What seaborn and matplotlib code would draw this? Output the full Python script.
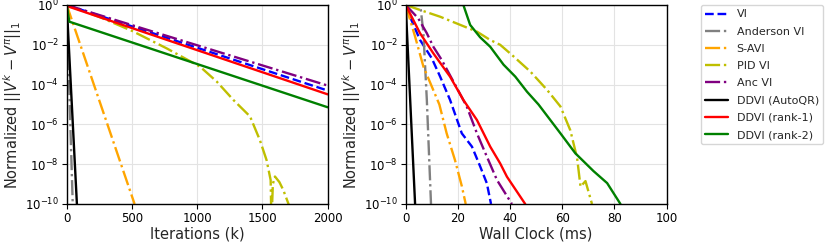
import numpy as np
import pandas as pd
import matplotlib
matplotlib.use("Agg")
import matplotlib.pyplot as plt
import matplotlib.ticker as mticker
import seaborn as sns

# series order / styles for legend
methods = ["VI", "Anderson VI", "S-AVI", "PID VI", "Anc VI",
           "DDVI (AutoQR)", "DDVI (rank-1)", "DDVI (rank-2)"]
colors = ["blue", "gray", "orange", "y", "purple", "black", "red", "green"]
styles = ["--", "-.", "-.", "-.", "-.", "-", "-", "-"]

# left panel: iterations vs log10 error
it_vi, lg_vi = [0, 2000], [0, -4.3]
it_and, lg_and = [0, 46], [0, -10]
it_savi, lg_savi = [0, 520], [0, -10]
it_pid = [0, 250, 500, 766, 1022, 1150, 1277, 1405, 1481, 1532, 1563, 1569,
          1580, 1596, 1630, 1660, 1700, 1710]
lg_pid = [0, -0.6, -1.3, -2.18, -3.1, -3.85, -4.77, -5.6, -6.8, -7.8, -8.8, -11,
          -9.0, -8.62, -8.9, -9.3, -10, -11]
it_anc, lg_anc = [0, 2000], [0, -4.05]
it_qr, lg_qr = [0, 78], [0, -10]
it_r1, lg_r1 = [0, 2000], [-0.05, -4.49]
it_r2, lg_r2 = [0, 20, 2000], [0, -0.84, -5.14]

# right panel: wall clock (ms) vs log10 error
ms_vi = [0, 1.65, 5.5, 10, 13.2, 17, 21.5, 25.4, 28.5, 31.1, 32.7]
lw_vi = [0, -0.59, -1.76, -2.68, -3.6, -4.77, -6.45, -7.12, -8.1, -8.96, -10]
ms_and = [0, 5.6, 6.8, 8.1, 9.7]
lw_and = [0, 0, -1.42, -4.77, -10]
ms_savi = [0, 3.6, 6.8, 12.9, 15.7, 18.9, 21.5, 23]
lw_savi = [0, -1.59, -3.1, -5.0, -6.45, -7.8, -9.1, -10]
ms_pid = [0, 5.5, 13.2, 20.9, 27.3, 32.4, 36.2, 40.7, 47.8, 54.2, 59.3, 63.1,
          65.7, 67, 68.9, 71.4]
lw_pid = [0, -0.25, -0.59, -1.0, -1.34, -1.76, -2.0, -2.51, -3.35, -4.27, -5.1,
          -6.3, -7.7, -9.13, -8.85, -10]
ms_anc = [0, 4.8, 8.1, 10.6, 13.8, 18.5, 23.4, 27.3, 31.1, 35, 40.7]
lw_anc = [0, -0.67, -1.42, -2.1, -2.76, -3.9, -5.1, -6.45, -7.62, -8.8, -10]
ms_qr, lw_qr = [0, 3.6], [0, -10]
ms_r1 = [0, 5.5, 10.6, 17, 22.1, 27.3, 32.4, 36.2, 38.8, 45.8]
lw_r1 = [0, -1.42, -2.43, -3.6, -4.77, -5.78, -7.12, -7.96, -8.63, -10]
ms_r2 = [0, 22.1, 24.7, 28.5, 32.4, 37.5, 42, 46.5, 50.9, 59.3, 65, 72, 77.2, 82.3]
lw_r2 = [0, 0, -1.0, -1.62, -2.1, -3.0, -3.6, -4.36, -5.0, -6.45, -7.45, -8.35,
         -8.95, -10]

left = [(it_vi, lg_vi), (it_and, lg_and), (it_savi, lg_savi), (it_pid, lg_pid),
        (it_anc, lg_anc), (it_qr, lg_qr), (it_r1, lg_r1), (it_r2, lg_r2)]
right = [(ms_vi, lw_vi), (ms_and, lw_and), (ms_savi, lw_savi), (ms_pid, lw_pid),
         (ms_anc, lw_anc), (ms_qr, lw_qr), (ms_r1, lw_r1), (ms_r2, lw_r2)]

sns.set_style("whitegrid", {"axes.edgecolor": "black", "xtick.bottom": True,
                            "ytick.left": True, "grid.color": "#e3e3e3"})
plt.rcParams["font.family"] = ["DejaVu Sans"]
plt.rcParams["xtick.major.size"] = 3.5
plt.rcParams["ytick.major.size"] = 3.5
plt.rcParams["xtick.color"] = "black"
plt.rcParams["ytick.color"] = "black"

fig = plt.figure(figsize=(8.31, 2.44), dpi=100)
ax1 = fig.add_axes([0.0803, 0.164, 0.314, 0.8156])
ax2 = fig.add_axes([0.4882, 0.164, 0.314, 0.8156])

for ax, data, xlabel, xmax, xt in [
        (ax1, left, "Iterations (k)", 2000, [0, 500, 1000, 1500, 2000]),
        (ax2, right, "Wall Clock (ms)", 100, [0, 20, 40, 60, 80, 100])]:
    for name, c, ls, (xs, lg) in zip(methods, colors, styles, data):
        df = pd.DataFrame({"x": xs, "err": 10.0 ** np.array(lg)})
        sns.lineplot(data=df, x="x", y="err", ax=ax, color=c, linestyle=ls,
                     linewidth=1.7, label=name, estimator=None, sort=False,
                     legend=False)
    ax.set_yscale("log")
    ax.set_ylim(1e-10, 1)
    ax.set_xlim(0, xmax)
    ax.set_xticks(xt)
    ax.set_yticks([1e0, 1e-2, 1e-4, 1e-6, 1e-8, 1e-10])
    ax.yaxis.set_minor_locator(mticker.NullLocator())
    ax.tick_params(labelsize=8.5, pad=2)
    ax.set_xlabel(xlabel, fontsize=10.5, labelpad=1)
    ax.set_ylabel(r"Normalized $||V^k - V^{\pi}||_1$", fontsize=10.5, labelpad=1)
    for s in ax.spines.values():
        s.set_linewidth(1.0)

handles = ax1.get_lines()
fig.legend(handles, methods, loc="upper left", bbox_to_anchor=(701 / 831, 1 - 5 / 244),
           borderaxespad=0, fontsize=8, labelspacing=0.65, frameon=True)

fig.savefig("out.png", dpi=100)
